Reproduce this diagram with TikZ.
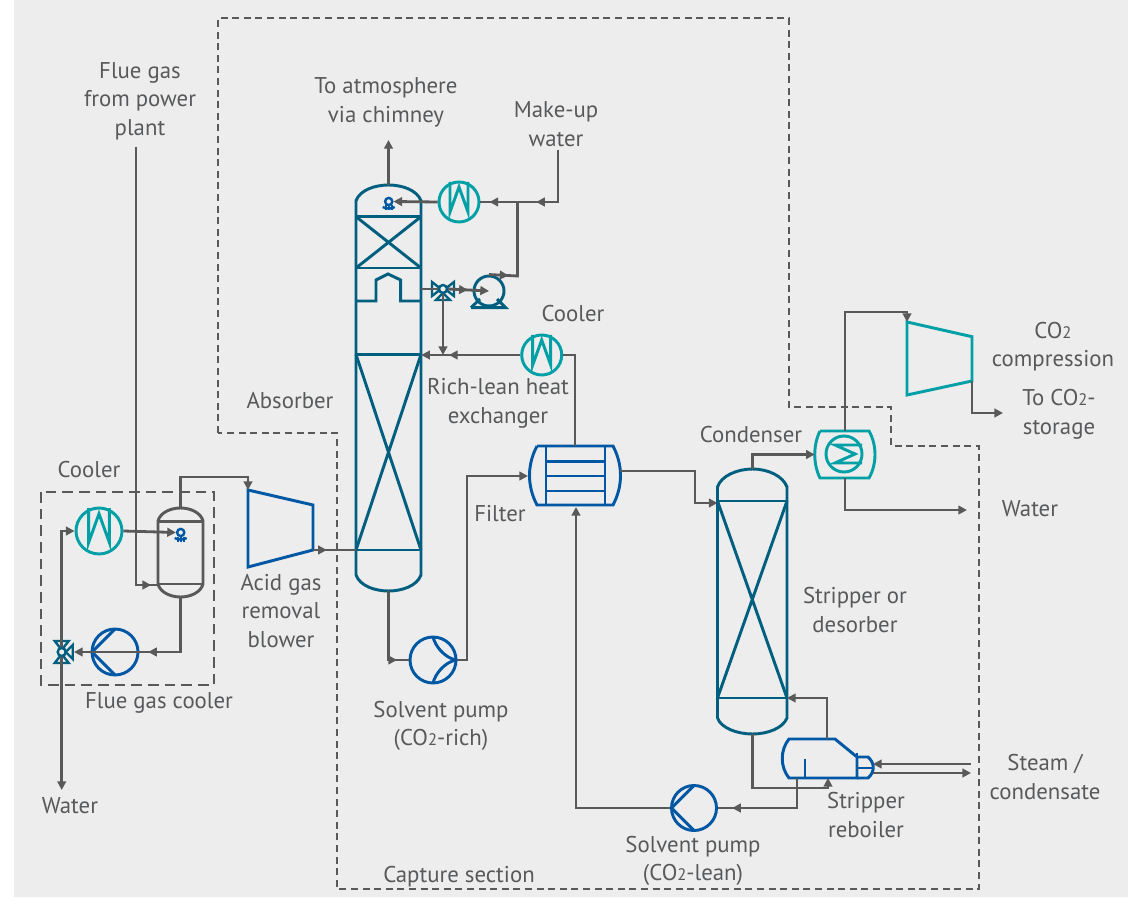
\documentclass[tikz,border=0pt]{standalone}
\usepackage{fontspec}
\setmainfont{PT Sans}
\usetikzlibrary{arrows.meta,decorations.markings}

\definecolor{panelgray}{HTML}{EDEDED}
\definecolor{pipegray}{HTML}{595959}
\definecolor{inkgray}{HTML}{58595B}
\definecolor{deepteal}{HTML}{005F7F}
\definecolor{brightteal}{HTML}{00A0A6}
\definecolor{pumpblue}{HTML}{0057A4}

\newcommand{\cotwo}{CO{\fontsize{12.5}{12.5}\selectfont 2}}

\tikzset{
  pipetip/.tip={Triangle[length=6.5pt,width=6.5pt]},
  pipe/.style={draw=pipegray, line width=2.1pt},
  arrowpipe/.style={pipe, -pipetip},
  midtip/.style={postaction={decorate, decoration={markings, mark=at position #1 with {\arrow{pipetip}}}}},
  deepline/.style={draw=deepteal, line width=2.2pt},
  tealline/.style={draw=brightteal, line width=2.2pt},
  blueline/.style={draw=pumpblue, line width=2.2pt},
  grayline/.style={draw=pipegray, line width=2.2pt},
  capturebox/.style={draw=pipegray, line width=2pt, dash pattern=on 5.2pt off 3.5pt},
  coolerbox/.style={draw=pipegray, line width=2pt, dash pattern=on 8pt off 4.5pt},
  frame/.style={inner sep=0pt, minimum width=#1*0.75pt},
  lbl/.style={text=inkgray, align=center, font=\fontsize{17.1}{21.4}\selectfont},
  ring/.style={circle, inner sep=0pt, line width=2.2pt, minimum size=#1*1.5pt},
  cooler/.pic={
    \node[ring=#1, tealline] (-c) {};
    \draw[tealline, line join=miter] (-.45*#1,-#1) -- (-.45*#1,.5*#1) -- (0,-.75*#1) -- (.45*#1,.5*#1) -- (.45*#1,-#1);
  },
  pump/.pic={
    \node[ring=#1, blueline] (-c) {};
    \draw[blueline] (0,-#1) -- (-#1,0) -- (0,#1);
  },
  pumpbent/.pic={
    \node[ring=#1, blueline] (-c) {};
    \draw[blueline] (0,-#1) .. controls (-.1*#1,-.6*#1) and (-.5*#1,-.1*#1) .. (-#1,0)
      .. controls (-.5*#1,.1*#1) and (-.1*#1,.6*#1) .. (0,#1);
  },
  valve/.pic={
    \node[ring=4, deepline, line width=1.8pt] (-c) {};
    \draw[deepline, line width=1.8pt] (-4,-1.5) -- (-11,-7) -- (-11,7) -- (-4,1.5);
    \draw[deepline, line width=1.8pt] (4,-1.5) -- (11,-7) -- (11,7) -- (4,1.5);
    \draw[deepline, line width=1.8pt] (0,4) -- (-7,11) -- (7,11) -- cycle;
  },
  nozzle/.pic={
    \node[ring=3.6, blueline, line width=1.8pt] (-c) {};
    \draw[blueline, line width=1.8pt] (-6,5.5) .. controls (-3,7.5) and (3,7.5) .. (6,5.5);
    \draw[blueline, line width=1.8pt] (-3,4) -- (-3,9) (0,4) -- (0,9) (3,4) -- (3,9);
  },
}

\begin{document}
\begin{tikzpicture}[x=0.75pt, y=-0.75pt]
  \useasboundingbox (0,0) rectangle (1128,898);
  \fill[white] (0,0) rectangle (1128,898);
  \fill[panelgray] (14,0) rectangle (1128,897);

  % section borders
  \draw[capturebox] (218,433) -- (218,18) -- (789,18) -- (789,407) -- (891,407) -- (891,446)
    -- (979,446) -- (979,889) -- (337,889) -- (337,433) -- cycle;
  \draw[coolerbox] (41,492) rectangle (214,685);

  % frames of the vessels
  \node[frame=65, minimum height=406*0.75pt] (absorber) at (388.5,388) {};
  \node[frame=70, minimum height=265*0.75pt] (stripper) at (752.5,601.5) {};
  \node[frame=45, minimum height=89*0.75pt] (fluevessel) at (180.5,552.5) {};
  \node[frame=90, minimum height=59*0.75pt] (richlean) at (575,475.5) {};
  \node[frame=60, minimum height=47*0.75pt] (condenser) at (845,454.5) {};

  % ports
  \coordinate (fluein) at (136,147);
  \coordinate (flueport) at (158,585);
  \coordinate (makeup) at (558,150);
  \coordinate (chimney) at (388.5,140);
  \coordinate (blowerin) at (248,490);
  \coordinate (blowerout) at (313,550);
  \coordinate (absorberin) at (356,550);
  \coordinate (stripperin) at (717.5,503);
  \coordinate (richleanout) at (620,471);
  \coordinate (richleanin) at (528,476);
  \coordinate (compin) at (907,322);
  \coordinate (compout) at (972,381);
  \coordinate (storage) at (1003,413);
  \coordinate (waterout) at (967,510);
  \coordinate (waterleft) at (61.7,790);
  \coordinate (valvetip) at (74,652);
  \coordinate (rebtop) at (827,739);
  \coordinate (rebin) at (828,778);
  \coordinate (rebout) at (797,778);
  \coordinate (steamin) at (971,764);
  \coordinate (steamport) at (873,764);
  \coordinate (condport) at (873,773);
  \coordinate (condout) at (971,773);
  \coordinate (stripperret) at (787,698);

  % equipment
  \pic (coolertop) at (459,202) {cooler=20};
  \pic (coolermid) at (541.7,355) {cooler=20};
  \pic (coolerflue) at (99,531) {cooler=23};
  \pic (pumpflue) at (115,652) {pump=23};
  \pic[rotate=180] (pumprich) at (433,660) {pumpbent=23};
  \pic (pumplean) at (694,808) {pump=22.5};
  \pic (valvetop) at (443,289) {valve};
  \pic[rotate=90] (valveflue) at (61.7,652) {valve};
  \pic (nozzletop) at (388.7,201.5) {nozzle};
  \pic (nozzleflue) at (180.7,532.5) {nozzle};
  \node[ring=15, deepline] (pumpmakeup) at (489,291) {};
  \draw[deepline] (471,307.7) -- (505.7,307.7) -- (497,299) (471,307.7) -- (480,299);
  \node[ring=18, tealline] (condcoil) at (844,454) {};
  \draw[tealline] (862,445) -- (835,445) -- (855,454) -- (835,463) -- (862,463);

  % absorber
  \draw[deepline] (356,575) -- (356,200.7) .. controls (360,190) and (375,185) .. (388.5,185)
    .. controls (402,185) and (417,190) .. (421,200.7) -- (421,575)
    .. controls (417,586) and (402,591) .. (388.5,591) .. controls (375,591) and (360,586) .. (356,575);
  \draw[deepline] (356,216.7) -- (421,216.7) (356,268) -- (421,268) (356,354.5) -- (421,354.5) (356,550) -- (421,550);
  \draw[deepline] (356,216.7) -- (421,268) (421,216.7) -- (356,268);
  \draw[deepline] (356,354.5) -- (421,550) (421,354.5) -- (356,550);
  \draw[deepline] (356,301) -- (376,301) -- (376,280) -- (388,274) -- (400.7,280) -- (400.7,301) -- (421,301);

  % stripper
  \draw[deepline] (717.5,718) -- (717.5,487) .. controls (721,476) and (737,469) .. (752.5,469)
    .. controls (768,469) and (783,476) .. (787,487) -- (787,718)
    .. controls (783,728) and (768,734) .. (752.5,734) .. controls (737,734) and (721,728) .. (717.5,718);
  \draw[deepline] (717.5,501) -- (787,501) (717.5,698) -- (787,698);
  \draw[deepline] (717.5,501) -- (787,698) (787,501) -- (717.5,698);

  % flue gas vessel
  \draw[grayline] (158,584) -- (158,521) .. controls (160,513) and (170,508) .. (180.5,508)
    .. controls (191,508) and (201,513) .. (203,521) -- (203,584)
    .. controls (201,592) and (191,597) .. (180.5,597) .. controls (170,597) and (160,592) .. (158,584);
  \draw[grayline] (158,521.5) -- (203,521.5) (158,584) -- (203,584);

  % rich-lean exchanger
  \draw[blueline] (537,446) -- (613,446) .. controls (623,465) and (623,486) .. (613,505) -- (537,505)
    .. controls (527,486) and (527,465) .. (537,446);
  \draw[blueline] (546,446) -- (546,505) (605,446) -- (605,505);
  \draw[blueline] (546,461.7) -- (605,461.7) (546,476) -- (605,476) (546,491) -- (605,491);

  % condenser
  \draw[tealline] (820,431) -- (869,431) .. controls (877,445) and (877,464) .. (869,478) -- (820,478)
    .. controls (813,464) and (813,445) .. (820,431);

  % blower and compressor
  \draw[blueline] (248,490) -- (313,505) -- (313,550) -- (248,567) -- cycle;
  \draw[tealline] (907,322) -- (972,336.7) -- (972,381) -- (907,395) -- cycle;

  % reboiler
  \draw[blueline] (789,739) .. controls (780,750) and (780,767) .. (789,778) -- (857,778) -- (857,757) -- (835,739) -- cycle;
  \draw[blueline] (857,757) -- (868,757) .. controls (875,763) and (875,772) .. (868,778) -- (857,778);
  \draw[blueline] (857,768) -- (872,768) (857,752.5) -- (857,757) (805,759) -- (805,778);

  % pipes, left part
  \draw[pipe, midtip=.985] (fluein) -- (136,585) -- (flueport);
  \draw[arrowpipe] (valveflue-c.north) -- (61.7,531) -- (coolerflue-c.west);
  \draw[arrowpipe] (coolerflue-c.east) -- (nozzleflue-c.west);
  \draw[arrowpipe, midtip=.54] (fluevessel.south) -- (180.5,652) -- (valvetip);
  \draw[arrowpipe] (valveflue-c.south) -- (waterleft);
  \draw[arrowpipe] (fluevessel.north) -- (180.5,477) -- (248,477) -- (blowerin);
  \draw[pipe, midtip=.32] (blowerout) -- (absorberin);

  % pipes, absorber
  \draw[arrowpipe] (absorber.north) -- (chimney);
  \draw[pipe, midtip=.57, midtip=.93] (makeup) -- (558,202) -- (coolertop-c.east);
  \draw[arrowpipe] (coolertop-c.west) -- (nozzletop-c.east);
  \draw[pipe, midtip=.19] (pumpmakeup.north) -- (517.5,276) -- (517.5,202);
  \draw[pipe] (absorber.east |- valvetop-c) -- (valvetop-c.west);
  \draw[arrowpipe, midtip=.48] (valvetop-c.east) -- (pumpmakeup.center);
  \draw[arrowpipe] (valvetop-c.south) -- (443,355);
  \draw[arrowpipe, midtip=.72] (coolermid-c.west) -- (absorber.east |- coolermid-c);
  \draw[pipe] (coolermid-c.east) -| (richlean.north);
  \draw[pipe, midtip=.87] (absorber.south) -- (388.5,660) -- (pumprich-c.west);
  \draw[arrowpipe] (pumprich-c.east) -- (467,660) -- (467,476) -- (richleanin);
  \draw[arrowpipe] (pumplean-c.west) -- (576,808) -- (576,507);

  % pipes, stripper
  \draw[arrowpipe] (richleanout) -- (695,471) -- (695,503) -- (stripperin);
  \draw[arrowpipe] (stripper.north) -- (752.5,454.5) -- (condenser.west);
  \draw[arrowpipe] (condenser.north) -- (845,312) -- (907,312) -- (compin);
  \draw[arrowpipe] (compout) -- (972,413) -- (storage);
  \draw[arrowpipe] (condenser.south) -- (845,510) -- (waterout);
  \draw[arrowpipe] (stripper.south) -- (752.5,788) -- (828,788) -- (rebin);
  \draw[arrowpipe] (rebtop) -- (827,698) -- (stripperret);
  \draw[pipe, midtip=.87] (rebout) -- (797,808) -- (pumplean-c.east);
  \draw[arrowpipe] (steamin) -- (steamport);
  \draw[arrowpipe] (condport) -- (condout);

  % labels
  \node[lbl] (labelflue) at (140,101) {Flue gas\\from power\\plant};
  \node[lbl] (labelair) at (386,102.5) {To atmosphere\\via chimney};
  \node[lbl] (labelmakeup) at (556,124) {Make-up\\water};
  \node[lbl] (labelcoolmid) at (573,314) {Cooler};
  \node[lbl] (labelrich) at (498,403.5) {Rich-lean heat\\exchanger};
  \node[lbl] (labelabs) at (290,401) {Absorber};
  \node[lbl] (labelcoolflue) at (89,470) {Cooler};
  \node[lbl] (labelblower) at (281,611) {Acid gas\\removal\\blower};
  \node[lbl] (labelfluecool) at (159,703) {Flue gas cooler};
  \node[lbl] (labelwaterl) at (70,806) {Water};
  \node[lbl] (labelpumprich) at (441,726) {Solvent pump\\(\cotwo-rich)};
  \node[lbl] (labelfilter) at (500,514) {Filter};
  \node[lbl] (labelcond) at (751,435) {Condenser};
  \node[lbl] (labelcomp) at (1053,346.5) {\cotwo\\compression};
  \node[lbl] (labelstore) at (1059,414.5) {To \cotwo-\\storage};
  \node[lbl] (labelwaterr) at (1030,509) {Water};
  \node[lbl] (labelstrip) at (855,610) {Stripper or\\desorber};
  \node[lbl] (labelsteam) at (1045,777) {Steam /\\condensate};
  \node[lbl] (labelreb) at (866,815) {Stripper\\reboiler};
  \node[lbl] (labelpumplean) at (693,861) {Solvent pump\\(\cotwo-lean)};
  \node[lbl] (labelcapture) at (459,876.5) {Capture section};
\end{tikzpicture}
\end{document}
